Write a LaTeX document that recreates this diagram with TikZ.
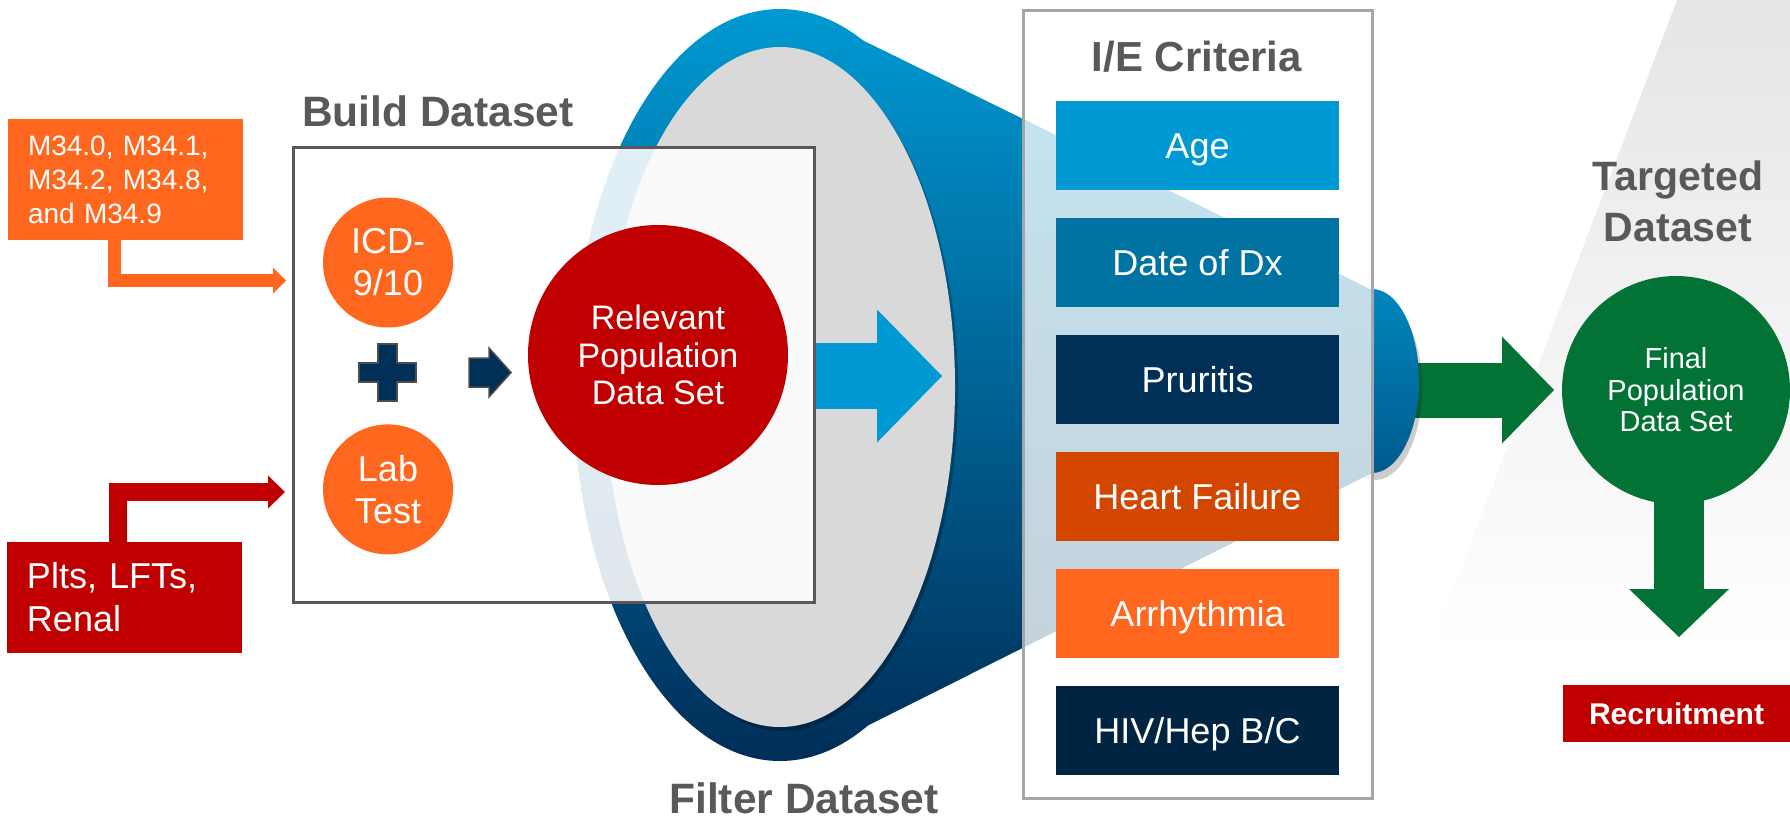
\documentclass[tikz,border=0pt]{standalone}
\usepackage{fontspec}
\setmainfont{Liberation Sans}
\usetikzlibrary{positioning,arrows.meta}
\definecolor{dred}{HTML}{C00000}
\definecolor{lorange}{HTML}{FF671F}
\definecolor{dorange}{HTML}{D24600}
\definecolor{lblue}{HTML}{0099D3}
\definecolor{mblue}{HTML}{0073A3}
\definecolor{navy}{HTML}{003057}
\definecolor{dnavy}{HTML}{002442}
\definecolor{dgreen}{HTML}{037335}
\definecolor{tgray}{HTML}{595959}
\definecolor{fgray}{HTML}{D9D9D9}
\definecolor{ctop}{RGB}{0,153,210}
\definecolor{cmid}{RGB}{0,112,168}
\definecolor{cbot}{RGB}{0,46,88}
\definecolor{captop}{RGB}{0,134,189}
\definecolor{capbot}{RGB}{0,90,142}

\begin{document}
\begin{tikzpicture}[x=1pt,y=-1pt]
		\tikzstyle{title}=[text=tgray, font=\fontsize{41}{51}\selectfont\bfseries, align=center, inner sep=0pt]
		\tikzstyle{src}=[rectangle, minimum width=235pt, text width=195pt, inner xsep=20pt, text=white, align=left]
		\tikzstyle{dot}=[circle, text=white, inner sep=0pt, align=center]
		\tikzstyle{bar}=[rectangle, minimum width=283pt, minimum height=89pt, inner sep=0pt, text=white, font=\fontsize{36}{42}\selectfont, text height=25.8pt, text depth=0pt]
		\tikzstyle{oarr}=[line width=13pt, lorange, -{Triangle[length=13pt, width=26pt, line width=0pt]}]
		\tikzstyle{rarr}=[line width=18pt, dred, -{Triangle[length=17pt, width=33pt, line width=0pt]}]
		\tikzstyle{bigarr}=[line width=66pt, lblue, -{Triangle[length=65pt, width=133pt, line width=0pt]}]
		\tikzstyle{grarr}=[line width=55pt, dgreen, -{Triangle[length=52pt, width=107pt, line width=0pt]}]
		\tikzstyle{dnarr}=[line width=50pt, dgreen, -{Triangle[length=48pt, width=100pt, line width=0pt]}]
		\tikzstyle{cone}=[top color=ctop, middle color=cmid, bottom color=cbot]

		\useasboundingbox (0,0) rectangle (1790,820);
		\shade[top color=black!10, bottom color=white] (1677,0) -- (1790,0) -- (1790,650) -- (1430,650) -- cycle;

		\coordinate (capr) at (1390,390);
		\coordinate (gtip) at (1554,390);
		\path (capr) edge [grarr] (gtip);

		\fill[black, opacity=0.2] (1375,388) ellipse [x radius=47, y radius=92];
		\shade[top color=captop, bottom color=capbot] (1372,381) ellipse [x radius=47, y radius=92];
		\shade[cone] (780,385) ellipse [x radius=207, y radius=376];
		\shade[cone] (805,12) -- (1372,290) -- (1372,473) -- (805,757) -- cycle;
		\fill[black, opacity=0.25] (783,391) ellipse [x radius=175, y radius=340];
		\fill[fgray] (780,387) ellipse [x radius=175, y radius=340];

		\node[rectangle, draw=tgray, line width=3pt, fill=white, fill opacity=0.88, minimum width=521pt, minimum height=455pt] (build) at (553.5,374.5) {};
		\node[rectangle, draw=black!35, line width=3pt, fill=white, fill opacity=0.77, minimum width=349pt, minimum height=788pt] (crit) at (1197.5,404) {};

		\node[title, font=\fontsize{42.5}{51}\selectfont\bfseries] (bt) at (438,111) {Build Dataset};
		\node[title, font=\fontsize{42}{51}\selectfont\bfseries] (ct) at (1197,57) {I/E Criteria};
		\node[title, font=\fontsize{42.5}{51}\selectfont\bfseries] (ft) at (804,798) {Filter Dataset};
		\node[title] (tt) at (1678,201) {Targeted\\Dataset};

		\node[bar, fill=lblue]   (age) at (1197.5,145.5) {Age};
		\node[bar, fill=mblue]   (dx)  [below=27.6pt of age] {Date of Dx};
		\node[bar, fill=navy]    (pru) [below=27.6pt of dx]  {Pruritis};
		\node[bar, fill=dorange] (hf)  [below=27.6pt of pru] {Heart Failure};
		\node[bar, fill=lorange] (arr) [below=27.6pt of hf]  {Arrhythmia};
		\node[bar, fill=dnavy]   (hiv) [below=27.6pt of arr] {HIV/Hep B/C};

		\node[src, fill=lorange, minimum height=121pt, font=\fontsize{28}{34}\selectfont] (icdsrc) at (125.5,179.5) {M34.0, M34.1,\\M34.2, M34.8,\\and M34.9};
		\node[src, fill=dred, minimum height=111pt, font=\fontsize{36}{43}\selectfont] (labsrc) at (124.5,597.5) {Plts, LFTs,\\Renal};

		\node[dot, fill=lorange, minimum size=130pt, font=\fontsize{36}{42}\selectfont] (icd) at (388,262.5) {ICD-\\9/10};
		\node[dot, fill=lorange, minimum size=130pt, font=\fontsize{36}{42}\selectfont] (lab) [below=96.5pt of icd] {Lab\\Test};
		\node[dot, fill=dred, minimum size=260pt, font=\fontsize{34}{37.5}\selectfont] (rel) at (658,355) {Relevant\\Population\\Data Set};
		\node[dot, fill=dgreen, minimum size=228pt, font=\fontsize{29}{31.5}\selectfont] (fin) at (1676,390) {Final\\Population\\Data Set};
		\node[rectangle, fill=dred, minimum width=227pt, minimum height=57pt, text=white, font=\fontsize{30}{36}\selectfont\bfseries, text height=21.5pt, text depth=0pt] (rec) at (1676.5,713.5) {Recruitment};

		\filldraw[fill=navy, draw=black!70, line width=1.5pt] (378,344) -- (397,344) -- (397,363) -- (416,363) -- (416,382) -- (397,382) -- (397,401) -- (378,401) -- (378,382) -- (359,382) -- (359,363) -- (378,363) -- cycle;
		\filldraw[fill=navy, draw=black!70, line width=1.5pt] (469,358) -- (489,358) -- (489,348) -- (511,372.5) -- (489,397) -- (489,387) -- (469,387) -- cycle;

		\coordinate (otip) at (286,280.5);
		\coordinate (rtip) at (285,492);
		\coordinate (ftip) at (942,376);
		\coordinate (dtip) at (1679,637);
		\draw[oarr] ([xshift=106.5pt]icdsrc.south west) |- (otip);
		\draw[rarr] ([xshift=111.5pt]labsrc.north west) |- (rtip);
		\path 
		(build.east |- ftip) edge [bigarr] (ftip)
		(fin.south -| dtip) edge [dnarr, shorten <=-6pt] (dtip)
		;
\end{tikzpicture}
\end{document}
